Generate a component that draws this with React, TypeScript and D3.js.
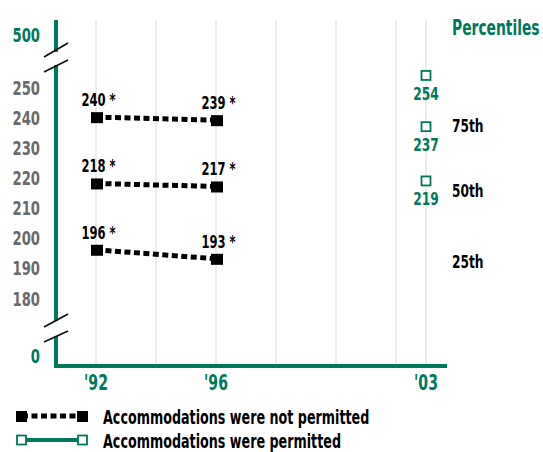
import React from "react";
import * as d3 from "d3";

const GREEN = "#00785a";
const years = [1992, 1996];
const notPermitted = [
  { pct: "75th", values: [240, 239] },
  { pct: "50th", values: [218, 217] },
  { pct: "25th", values: [196, 193] },
];
const permittedYear = 2003;
const permitted = [254, 237, 219];
const percentileLabels = ["75th", "50th", "25th"];
const percentileLabelValues = [237, 215.5, 192];
const yTicks = [250, 240, 230, 220, 210, 200, 190, 180];
const gridYears = [1992, 1994, 1996, 1998, 2000, 2002, 2003];
const xTickLabels = [
  { year: 1992, label: "'92" },
  { year: 1996, label: "'96" },
  { year: 2003, label: "'03" },
];

const FONT = "'DejaVu Sans', sans-serif";

// condensed bold text, squeezed horizontally to get the narrow look
function T({ x, y, size, fill, anchor = "start", sx = 0.66, children }: any) {
  return (
    <text transform={`translate(${x},${y}) scale(${sx},1)`} textAnchor={anchor} fontSize={size} fill={fill}
      fontFamily={FONT} fontWeight="bold">{children}</text>
  );
}

export default function App() {
  const width = 543;
  const height = 452;
  const x = d3.scaleLinear().domain([1992, 1996]).range([96, 216]);
  const y = d3.scaleLinear().domain([180, 250]).range([298, 87]);
  const axisTop = 20;
  const axisBottom = 366;
  const axisLeft = 56;
  const axisRight = 447;
  const line = d3.line<number>().x((_, i) => x(years[i])).y(d => y(d));

  return (
    <svg width={width} height={height} style={{ position: "absolute", left: 0, top: 0 }}>
      <rect width={width} height={height} fill="#fff" />
      {gridYears.map(g => (
        <line key={g} x1={x(g)} x2={x(g)} y1={axisTop} y2={axisBottom} stroke="#e6e6e6" strokeWidth={1.5} />
      ))}
      {/* axes */}
      <line x1={axisLeft} x2={axisLeft} y1={axisTop} y2={axisBottom + 2} stroke={GREEN} strokeWidth={4} />
      <line x1={axisLeft - 2} x2={axisRight} y1={axisBottom} y2={axisBottom} stroke={GREEN} strokeWidth={4} />
      {/* break marks */}
      <line x1={axisLeft} x2={axisLeft} y1={52} y2={65} stroke="#fff" strokeWidth={5} />
      <line x1={axisLeft} x2={axisLeft} y1={321} y2={336} stroke="#fff" strokeWidth={5} />
      {[[57, 43], [72, 60], [327, 314], [342, 331]].map(([a, b], i) => (
        <line key={i} x1={44} x2={68} y1={a} y2={b} stroke="#111" strokeWidth={1.8} />
      ))}
      {yTicks.map(t => (
        <T key={t} x={40} y={y(t) + 7.5} anchor="end" size={20} fill="#6b6b6b">{t}</T>
      ))}
      <T x={40} y={42} anchor="end" size={20} fill={GREEN}>500</T>
      <T x={40} y={363} anchor="end" size={20} fill={GREEN}>0</T>
      {xTickLabels.map(d => (
        <T key={d.label} x={x(d.year)} y={390} anchor="middle" size={22} sx={0.64} fill={GREEN}>{d.label}</T>
      ))}
      {/* not permitted series */}
      {notPermitted.map(s => (
        <g key={s.pct}>
          <path d={line(s.values) || ""} fill="none" stroke="#000" strokeWidth={5} strokeDasharray="6,3.5" />
          {s.values.map((v, i) => (
            <g key={i}>
              <rect x={x(years[i]) - 5} y={y(v) - 5} width={12} height={11} fill="#000" />
              <T x={x(years[i]) + 2.5} y={y(v) - 11} anchor="middle" size={17} sx={0.68} fill="#000">{v} *</T>
            </g>
          ))}
        </g>
      ))}
      {/* permitted series */}
      {permitted.map(v => (
        <g key={v}>
          <rect x={x(permittedYear) - 4.5} y={y(v) - 4} width={9} height={9} fill="#fff" stroke={GREEN} strokeWidth={1.8} />
          <T x={x(permittedYear)} y={y(v) + 25} anchor="middle" size={18} sx={0.68} fill={GREEN}>{v}</T>
        </g>
      ))}
      <T x={452} y={35} size={22} sx={0.63} fill={GREEN}>Percentiles</T>
      {percentileLabels.map((p, i) => (
        <T key={p} x={452} y={y(percentileLabelValues[i]) + 6} size={17} sx={0.72} fill="#000">{p}</T>
      ))}
      {/* legend */}
      <line x1={22} x2={83} y1={416} y2={416} stroke="#000" strokeWidth={5} strokeDasharray="6,3.5" />
      <rect x={16} y={411} width={11} height={11} fill="#000" />
      <rect x={77} y={411} width={11} height={11} fill="#000" />
      <T x={103} y={424} size={19} sx={0.67} fill="#000">Accommodations were not permitted</T>
      <line x1={22} x2={83} y1={440} y2={440} stroke={GREEN} strokeWidth={4} />
      <rect x={17} y={435.5} width={9} height={9} fill="#fff" stroke={GREEN} strokeWidth={1.8} />
      <rect x={78} y={435.5} width={9} height={9} fill="#fff" stroke={GREEN} strokeWidth={1.8} />
      <T x={103} y={448} size={19} sx={0.67} fill="#000">Accommodations were permitted</T>
    </svg>
  );
}
